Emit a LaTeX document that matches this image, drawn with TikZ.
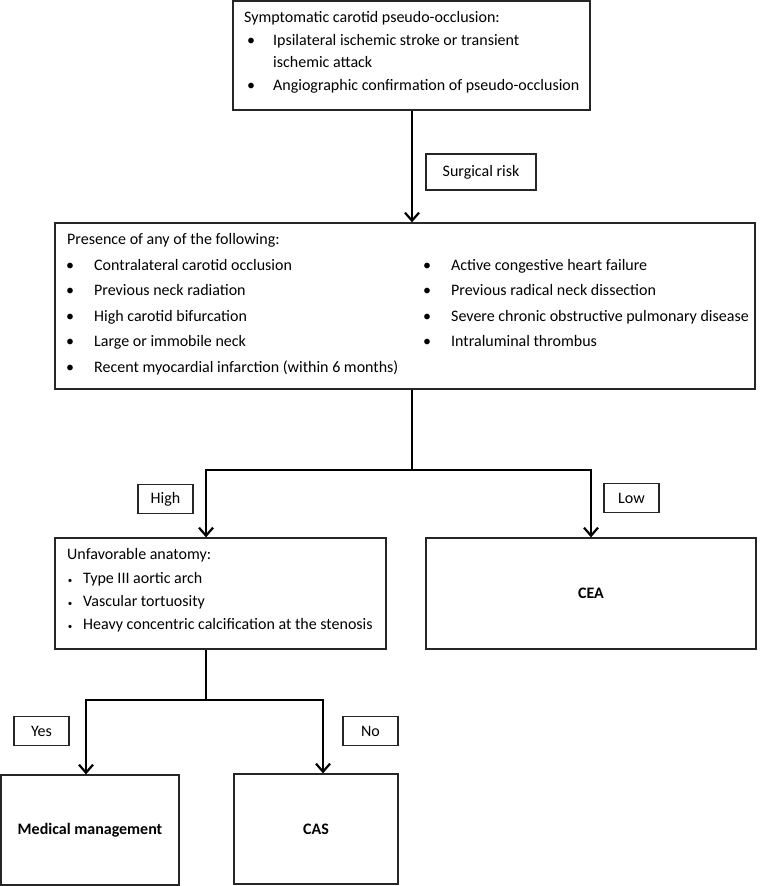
\documentclass[tikz,border=0pt]{standalone}
\usepackage{fontspec}
\setmainfont{Carlito}
\usetikzlibrary{arrows.meta}

\begin{document}
\begin{tikzpicture}[x=1pt, y=-1pt,
			 caja/.style={draw=black!85, line width=1.3pt, inner sep=0pt, font=\fontsize{16}{19}\selectfont\bfseries},
			 etiq/.style={draw=black!85, line width=1.1pt, minimum width=55, minimum height=29, inner sep=0pt, font=\fontsize{16}{19}\selectfont},
			 texto/.style={anchor=base west, inner sep=0pt, font=\fontsize{16}{19}\selectfont},
			 punto/.style={anchor=base, inner sep=0pt, font=\fontsize{16}{19}\selectfont},
			 flecha/.style={line width=1.8pt, -{Straight Barb[length=8pt, width=14pt, line width=2.2pt]}}
  		]
	\useasboundingbox (0,0) rectangle (760,886);

	%Cajas
		\node[caja, minimum width=357, minimum height=109] (sint) at (411.5,55.5) {};
		\node[caja, minimum width=700, minimum height=166] (pres) at (405,306) {};
		\node[caja, minimum width=331, minimum height=111] (unf) at (220.5,593.5) {};
		\node[caja, minimum width=330, minimum height=111] (cea) at (591,593.5) {CEA};
		\node[caja, minimum width=178, minimum height=110] (mm) at (90,830) {Medical management};
		\node[caja, minimum width=164, minimum height=110] (cas) at (316,829) {CAS};
	%Texto de la primera caja
		\node[texto] (s0) at (244,22) {Symptomatic carotid pseudo-occlusion:};
		\node[punto] (sb1) at (251,45) {\textbullet};
		\node[texto] (s1) at (273,45) {Ipsilateral ischemic stroke or transient};
		\node[texto] (s2) at (273,67) {ischemic attack};
		\node[punto] (sb3) at (251,90) {\textbullet};
		\node[texto] (s3) at (273,90) {Angiographic confirmation of pseudo-occlusion};
	%Texto de la segunda caja
		\node[texto] (p0) at (67,244) {Presence of any of the following:};
		\node[punto] (pb1) at (70,270) {\textbullet};
		\node[texto] (p1) at (94,270) {Contralateral carotid occlusion};
		\node[punto] (pb2) at (70,295) {\textbullet};
		\node[texto] (p2) at (94,295) {Previous neck radiation};
		\node[punto] (pb3) at (70,321) {\textbullet};
		\node[texto] (p3) at (94,321) {High carotid bifurcation};
		\node[punto] (pb4) at (70,346) {\textbullet};
		\node[texto] (p4) at (94,346) {Large or immobile neck};
		\node[punto] (pb5) at (70,372) {\textbullet};
		\node[texto] (p5) at (94,372) {Recent myocardial infarction (within 6 months)};
		\node[punto] (pb6) at (427,270) {\textbullet};
		\node[texto] (p6) at (451,270) {Active congestive heart failure};
		\node[punto] (pb7) at (427,295) {\textbullet};
		\node[texto] (p7) at (451,295) {Previous radical neck dissection};
		\node[punto] (pb8) at (427,321) {\textbullet};
		\node[texto] (p8) at (451,321) {Severe chronic obstructive pulmonary disease};
		\node[punto] (pb9) at (427,346) {\textbullet};
		\node[texto] (p9) at (451,346) {Intraluminal thrombus};
	%Texto de la tercera caja
		\node[texto] (u0) at (67,559) {Unfavorable anatomy:};
		\node[punto] (ub1) at (70,583) {\small\textbullet};
		\node[texto] (u1) at (83,583) {Type III aortic arch};
		\node[punto] (ub2) at (70,606) {\small\textbullet};
		\node[texto] (u2) at (83,606) {Vascular tortuosity};
		\node[punto] (ub3) at (70,629) {\small\textbullet};
		\node[texto] (u3) at (83,629) {Heavy concentric calcification at the stenosis};
	%Etiquetas
		\node[etiq, minimum width=110, minimum height=36] (riesgo) at (481,172) {Surgical risk};
		\node[etiq] (alto) at (165.5,499) {High};
		\node[etiq] (bajo) at (631.5,498) {Low};
		\node[etiq] (si) at (41.5,731) {Yes};
		\node[etiq] (no) at (370.5,731) {No};
	%Puntos de ramificacion
		\coordinate (j1) at (412,470);
		\coordinate (ja) at (206,470);
		\coordinate (j2) at (206,700);
		\coordinate (jy) at (86,700);
		\coordinate (jn) at (323,700);
	%Flechas
		\draw[flecha] (sint.south -| j1) -- (pres.north -| j1);
		\draw[line width=1.8pt] (pres.south -| j1) -- (j1);
		\draw[flecha] (j1) -- (ja) -- (unf.north -| ja);
		\draw[flecha] (j1) -| (cea.north);
		\draw[line width=1.8pt] (unf.south -| j2) -- (j2);
		\draw[flecha] (j2) -- (jy) -- (mm.north -| jy);
		\draw[flecha] (j2) -- (jn) -- (cas.north -| jn);
	\end{tikzpicture}
\end{document}
